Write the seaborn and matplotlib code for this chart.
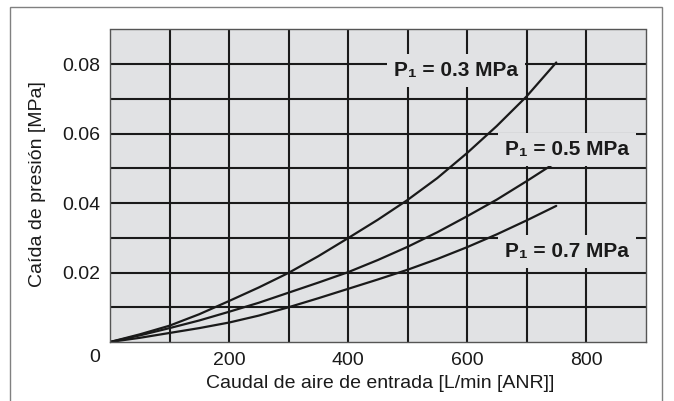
import numpy as np
import pandas as pd
import seaborn as sns
import matplotlib.pyplot as plt
from matplotlib.patches import Rectangle

# caudal de aire [L/min (ANR)] vs caida de presion [MPa]
caudal = [0, 50, 100, 150, 200, 250, 300, 350, 400, 450, 500, 550, 600, 650, 700, 750]
dp_03 = [0, 0.0022, 0.0047, 0.0080, 0.0118, 0.0157, 0.0199, 0.0247, 0.0299,
         0.0352, 0.0409, 0.0472, 0.0544, 0.0622, 0.0707, 0.0805]
dp_05 = [0, 0.0019, 0.0040, 0.0062, 0.0087, 0.0113, 0.0142, 0.0171, 0.0201,
         0.0236, 0.0274, 0.0316, 0.0362, 0.0410, 0.0463, 0.0518]
dp_07 = [0, 0.0012, 0.0026, 0.0040, 0.0056, 0.0076, 0.0100, 0.0126, 0.0153,
         0.0180, 0.0208, 0.0239, 0.0273, 0.0310, 0.0350, 0.0392]
presiones = ["0.3", "0.5", "0.7"]

x_ticks = [100, 200, 300, 400, 500, 600, 700, 800]
y_ticks = [0.01, 0.02, 0.03, 0.04, 0.05, 0.06, 0.07, 0.08]

df = pd.concat([
    pd.DataFrame({"caudal": caudal, "dp": v, "p": p})
    for p, v in zip(presiones, [dp_03, dp_05, dp_07])
])

sns.set_style("white")
plt.rcParams["font.family"] = ["Liberation Sans", "DejaVu Sans"]

fig = plt.figure(figsize=(6.74, 4.01), dpi=100)
ax = fig.add_axes([110 / 674, 1 - 342 / 401, 535.5 / 674, 312.5 / 401])
ax.set_facecolor("#e1e2e4")

sns.lineplot(data=df, x="caudal", y="dp", hue="p", palette=["#1a1a1a"] * 3,
             linewidth=1.6, legend=False, sort=False, ax=ax)

ax.set_xlim(0, 900)
ax.set_ylim(0, 0.09)
ax.set_xticks(x_ticks)
ax.set_xticklabels([str(t) if t % 200 == 0 else "" for t in x_ticks])
ax.set_yticks(y_ticks)
ax.set_yticklabels([f"{t:.2f}" if round(t * 100) % 2 == 0 else "" for t in y_ticks])
ax.tick_params(length=0, labelsize=14, colors="#1a1a1a", pad=7)
ax.grid(True, color="#1a1a1a", linewidth=1.5)
ax.set_axisbelow(True)
ax.set_xlabel("")
ax.set_ylabel("")
for s in ax.spines.values():
    s.set_color("#555555")
    s.set_linewidth(1.0)

ax.annotate("0", xy=(0, 0), xytext=(-15, -15), textcoords="offset pixels",
            ha="center", va="center", fontsize=14, color="#1a1a1a")

# etiquetas de las curvas
etiquetas = [(582, 0.0783, "0.3"), (768, 0.0554, "0.5"), (768, 0.0260, "0.7")]
for xe, ye, p in etiquetas:
    ax.text(xe, ye, f"P\u2081 = {p} MPa", ha="center", va="center",
            fontsize=15, fontweight="bold", color="#1a1a1a", zorder=5,
            bbox=dict(facecolor="#e1e2e4", edgecolor="none", pad=5))

fig.text(38 / 674, 1 - 184 / 401, "Caída de presión [MPa]", rotation=90,
         ha="center", va="center", fontsize=14, color="#1a1a1a")
fig.text(380 / 674, 1 - 384 / 401, "Caudal de aire de entrada [L/min [ANR]]",
         ha="center", va="center", fontsize=14, color="#1a1a1a")

fig.patches.append(Rectangle((10 / 674, -0.05), (662 - 10) / 674, 1 - 7 / 401 + 0.05,
                             transform=fig.transFigure, fill=False,
                             edgecolor="#808080", linewidth=1.0))

fig.savefig("out.png", dpi=100)
